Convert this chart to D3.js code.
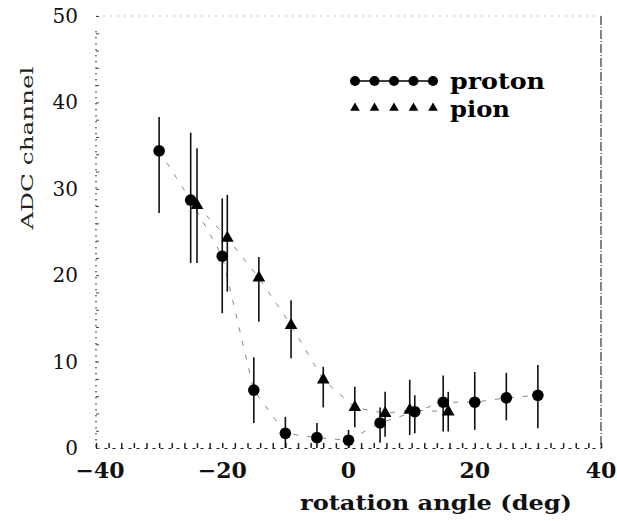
<!DOCTYPE html>
<html>
<head>
<meta charset="utf-8">
<script src="https://cdn.jsdelivr.net/npm/d3@7"></script>
<style>
  html, body { margin: 0; padding: 0; background: #fff; }
  svg { display: block; }
</style>
</head>
<body>
<svg id="chart" width="617" height="521"></svg>
<script>
// ---- data ----
const protonX     = [-30, -25, -20, -15, -10, -5, 0, 5, 10.5, 15, 20, 25, 30];
const protonY     = [34.4, 28.7, 22.2, 6.7, 1.7, 1.2, 0.9, 2.9, 4.2, 5.3, 5.3, 5.8, 6.1];
const protonErrUp = [3.9, 7.8, 6.7, 3.8, 1.9, 1.7, 1.2, 1.8, 1.9, 3.1, 3.5, 2.9, 3.5];
const protonErrDn = [7.2, 7.3, 6.6, 3.8, 1.7, 1.2, 0.9, 2.3, 2.5, 3.4, 3.2, 2.6, 3.8];

const pionX     = [-24, -19.2, -14.2, -9.1, -4, 1, 5.8, 9.7, 15.8];
const pionY     = [28.1, 24.3, 19.7, 14.2, 7.9, 4.7, 4.0, 4.4, 4.2];
const pionErrUp = [6.6, 5.0, 2.4, 2.9, 1.5, 2.4, 2.5, 3.5, 2.3];
const pionErrDn = [6.7, 6.2, 5.1, 3.8, 3.2, 2.3, 2.7, 2.9, 2.3];

const xTickValues = [-40, -20, 0, 20, 40];
const xTickLabels = ["\u221240", "\u221220", "0", "20", "40"];
const yTickValues = [0, 10, 20, 30, 40, 50];
const yTickLabels = ["0", "10", "20", "30", "40", "50"];
const seriesNames = ["proton", "pion"];

// ---- layout ----
const svg = d3.select("#chart");
const pL = 96, pR = 601, pT = 16, pB = 448;
const x = d3.scaleLinear().domain([-40, 40]).range([pL, pR]);
const y = d3.scaleLinear().domain([0, 50]).range([pB, pT]);
const serif = "'DejaVu Serif', 'Liberation Serif', serif";

// frame
svg.append("line").attr("x1", pL).attr("x2", pR).attr("y1", pT).attr("y2", pT)
  .attr("stroke", "#bbb").attr("stroke-width", 1).attr("stroke-dasharray", "2,5");
svg.append("line").attr("x1", pR).attr("x2", pR).attr("y1", pT).attr("y2", pB)
  .attr("stroke", "#333").attr("stroke-width", 1.2).attr("stroke-dasharray", "9,2,1,2");
svg.append("line").attr("x1", pL).attr("x2", pL).attr("y1", pT + 15).attr("y2", pB)
  .attr("stroke", "#333").attr("stroke-width", 1.2).attr("stroke-dasharray", "1.5,4.5");

// bottom axis: line + inward minor ticks
const gx = svg.append("g").attr("transform", `translate(0,${pB})`);
gx.call(d3.axisBottom(x).tickValues(d3.range(-40, 41, 2)).tickSize(-5).tickSizeOuter(0).tickFormat(""));
gx.select(".domain").attr("stroke", "#222").attr("stroke-width", 1.2).attr("stroke-dasharray", "3,5");
gx.selectAll(".tick line").attr("stroke", "#222").attr("stroke-width", 1.5);

// left axis minor ticks
const gy = svg.append("g").attr("transform", `translate(${pL},0)`);
gy.call(d3.axisLeft(y).tickValues(d3.range(0, 51, 2)).tickSize(-3).tickSizeOuter(0).tickFormat(""));
gy.select(".domain").remove();
gy.selectAll(".tick line").attr("stroke", "#444").attr("stroke-width", 1);

// tick labels
svg.append("g").selectAll("text").data(xTickValues).join("text")
  .attr("x", (d) => x(d) + (d === -40 ? 4 : 0)).attr("y", 478)
  .attr("text-anchor", "middle")
  .attr("font-family", serif).attr("font-weight", "bold").attr("font-size", 22)
  .attr("fill", "#111")
  .text((d, i) => xTickLabels[i]);

svg.append("g").selectAll("text").data(yTickValues).join("text")
  .attr("x", 78).attr("y", (d) => y(d) + 7)
  .attr("text-anchor", "end")
  .attr("font-family", serif).attr("font-size", 20)
  .attr("fill", "#111")
  .text((d, i) => yTickLabels[i]);

// axis titles
svg.append("text")
  .attr("x", 436).attr("y", 510).attr("text-anchor", "middle")
  .attr("font-family", serif).attr("font-weight", "bold").attr("font-size", 20)
  .attr("textLength", 272).attr("lengthAdjust", "spacingAndGlyphs")
  .attr("fill", "#111")
  .text("rotation angle (deg)");

svg.append("text")
  .attr("transform", "translate(33,148) rotate(-90)")
  .attr("text-anchor", "middle")
  .attr("font-family", serif).attr("font-size", 16)
  .attr("textLength", 163).attr("lengthAdjust", "spacingAndGlyphs")
  .attr("fill", "#222")
  .text("ADC channel");

// connecting dashed lines
const line = d3.line().x((d) => x(d[0])).y((d) => y(d[1]));
svg.append("path").datum(protonX.map((v, i) => [v, protonY[i]]))
  .attr("d", line).attr("fill", "none").attr("stroke", "#888")
  .attr("stroke-width", 1).attr("stroke-dasharray", "5,9");
svg.append("path").datum(pionX.map((v, i) => [v, pionY[i]]))
  .attr("d", line).attr("fill", "none").attr("stroke", "#888")
  .attr("stroke-width", 1).attr("stroke-dasharray", "5,9");

// error bars
function errBars(xs, ys, up, dn) {
  svg.append("g").selectAll("line").data(xs).join("line")
    .attr("x1", (d) => x(d)).attr("x2", (d) => x(d))
    .attr("y1", (d, i) => y(Math.max(0, ys[i] - dn[i])))
    .attr("y2", (d, i) => y(ys[i] + up[i]))
    .attr("stroke", "#111").attr("stroke-width", 1.6);
}
errBars(protonX, protonY, protonErrUp, protonErrDn);
errBars(pionX, pionY, pionErrUp, pionErrDn);

// markers
const tri = d3.symbol().type(d3.symbolTriangle).size(70);
svg.append("g").selectAll("circle").data(protonX).join("circle")
  .attr("cx", (d) => x(d)).attr("cy", (d, i) => y(protonY[i]))
  .attr("r", 5.8).attr("fill", "#000");
svg.append("g").selectAll("path").data(pionX).join("path")
  .attr("d", tri)
  .attr("transform", (d, i) => `translate(${x(d)},${y(pionY[i])})`)
  .attr("fill", "#000");

// legend
const legX = d3.range(5).map((i) => 355 + i * 19.5);
const lg = svg.append("g");
lg.append("line").attr("x1", 355).attr("x2", 433).attr("y1", 81).attr("y2", 81)
  .attr("stroke", "#000").attr("stroke-width", 1.5);
lg.selectAll("circle").data(legX).join("circle")
  .attr("cx", (d) => d).attr("cy", 81).attr("r", 5).attr("fill", "#000");
lg.selectAll("path").data(legX).join("path")
  .attr("d", d3.symbol().type(d3.symbolTriangle).size(40))
  .attr("transform", (d) => `translate(${d},108)`).attr("fill", "#000");
lg.selectAll("text").data(seriesNames).join("text")
  .attr("x", 450).attr("y", (d, i) => (i === 0 ? 89 : 117))
  .attr("font-family", serif).attr("font-weight", "bold").attr("font-size", 23)
  .attr("textLength", (d, i) => (i === 0 ? 95 : 60)).attr("lengthAdjust", "spacingAndGlyphs")
  .attr("fill", "#000")
  .text((d) => d);
</script>
</body>
</html>
